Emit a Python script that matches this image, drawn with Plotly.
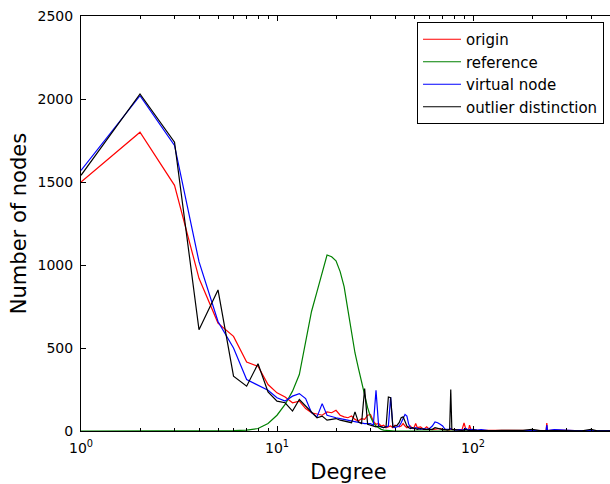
import plotly.graph_objects as go

degree = list(range(1, 51)) + [51, 52, 54, 56, 58, 60, 62, 64, 66, 68,
                                70, 72, 74, 76, 77, 78, 80, 82, 85, 88,
                                90, 92, 95, 96, 98, 100, 105, 110, 120, 130,
                                140, 150, 165, 180, 200, 220, 236, 238, 240, 260,
                                280, 300, 330, 360, 400, 430, 470, 500]

origin = [1500, 1800, 1480, 920, 650, 570, 415, 390, 280, 230,
          205, 170, 180, 135, 110, 100, 95, 115, 110, 125,
          95, 85, 80, 90, 70, 60, 75, 70, 95, 100,
          60, 40, 45, 30, 35, 20, 25, 30, 20, 35,
          30, 25, 30, 45, 30, 20, 25, 30, 15, 20,
          45, 20, 25, 10, 25, 10, 8, 10, 12, 15,
          10, 8, 5, 5, 10, 10, 10, 8, 5, 10,
          48, 10, 8, 35, 5, 5, 3, 5, 6, 3,
          2, 4, 2, 3, 2, 3, 2, 48, 2, 5,
          3, 2, 3, 2, 1, 2, 1, 1]

reference = [0, 0, 0, 0, 1, 2, 5, 15, 45, 95,
             160, 240, 340, 550, 720, 840, 950, 1060, 1050, 1025,
             960, 870, 730, 600, 470, 380, 300, 210, 140, 85,
             50, 30, 18, 10, 5, 3, 2, 1, 1, 0,
             0, 0, 0, 0, 0, 0, 0, 0, 0, 0,
             0, 0, 0, 0, 0, 0, 0, 0, 0, 0,
             0, 0, 0, 0, 0, 0, 0, 0, 0, 0,
             0, 0, 0, 0, 0, 0, 0, 0, 0, 0,
             0, 0, 0, 0, 0, 0, 0, 0, 0, 0,
             0, 0, 0, 0, 0, 0, 0, 0]

virtual_node = [1570, 2020, 1720, 1020, 660, 500, 310, 275, 245, 200,
                180, 210, 225, 195, 110, 85, 165, 95, 85, 80,
                75, 70, 65, 65, 60, 55, 50, 45, 45, 45,
                35, 245, 30, 25, 20, 25, 30, 205, 25, 20,
                25, 30, 50, 75, 100, 90, 40, 20, 15, 15,
                20, 15, 10, 15, 10, 15, 30, 55, 50, 40,
                30, 10, 8, 10, 15, 10, 8, 5, 8, 5,
                10, 15, 5, 10, 8, 10, 5, 8, 3, 5,
                3, 2, 3, 2, 4, 2, 3, 36, 3, 8,
                5, 3, 2, 3, 2, 3, 2, 3]

outlier = [1540, 2030, 1740, 610, 850, 330, 270, 405, 235, 180,
           170, 120, 190, 150, 115, 80, 90, 65, 70, 75,
           65, 60, 55, 50, 115, 55, 45, 255, 40, 35,
           30, 25, 30, 25, 20, 25, 205, 200, 25, 30,
           35, 50, 80, 85, 60, 30, 20, 15, 20, 15,
           15, 10, 15, 10, 10, 8, 10, 20, 15, 10,
           8, 10, 5, 10, 250, 10, 8, 5, 5, 3,
           5, 8, 3, 5, 3, 5, 4, 3, 5, 2,
           4, 3, 2, 4, 10, 2, 2, 3, 2, 3,
           2, 2, 2, 1, 10, 1, 1, 1]

series = [("origin", origin, "#ff0000"),
          ("reference", reference, "#008000"),
          ("virtual node", virtual_node, "#0000ff"),
          ("outlier distinction", outlier, "#000000")]

x_tickvals = [1, 10, 100]
x_ticktext = ["10<sup>0</sup>", "10<sup>1</sup>", "10<sup>2</sup>"]
y_tickvals = [0, 500, 1000, 1500, 2000, 2500]

fig = go.Figure()
for name, vals, col in series:
    fig.add_trace(go.Scatter(x=degree, y=vals, mode="lines", name=name,
                             line=dict(color=col, width=1.2)))

minor_vals = [m * 10 ** e for e in range(3) for m in range(2, 10)]

fig.update_layout(
    width=616, height=484,
    margin=dict(l=81, r=0, t=16, b=53, autoexpand=False),
    paper_bgcolor="white", plot_bgcolor="white",
    font=dict(family="DejaVu Sans", color="black", size=14),
    legend=dict(x=0.9776, y=0.9855, xanchor="right", yanchor="top",
                bordercolor="black", borderwidth=1, bgcolor="white",
                font=dict(size=15), itemwidth=38),
)
fig.update_xaxes(type="log", range=[0, 2.7296], automargin=False,
                 tickmode="array", tickvals=x_tickvals, ticktext=x_ticktext,
                 ticks="inside", ticklen=5, tickcolor="black", ticklabelstandoff=4,
                 minor=dict(tickmode="array", tickvals=minor_vals, ticks="inside",
                            ticklen=3, tickcolor="black", showgrid=False),
                 showline=True, linecolor="black", linewidth=1, mirror="ticks",
                 showgrid=False, zeroline=False,
                 title=dict(text="Degree", font=dict(size=21), standoff=10),
                 tickfont=dict(size=14))
fig.update_yaxes(range=[0, 2500], tickmode="array", tickvals=y_tickvals, automargin=False,
                 ticks="inside", ticklen=5, tickcolor="black", ticklabelstandoff=4,
                 showline=True, linecolor="black", linewidth=1, mirror=False,
                 showgrid=False, zeroline=False,
                 title=dict(text="Number of nodes", font=dict(size=21), standoff=5),
                 tickfont=dict(size=14))

fig.write_html("out.html", config={"displayModeBar": False},
               post_script="document.body.style.margin='0';document.body.style.overflow='hidden';")
